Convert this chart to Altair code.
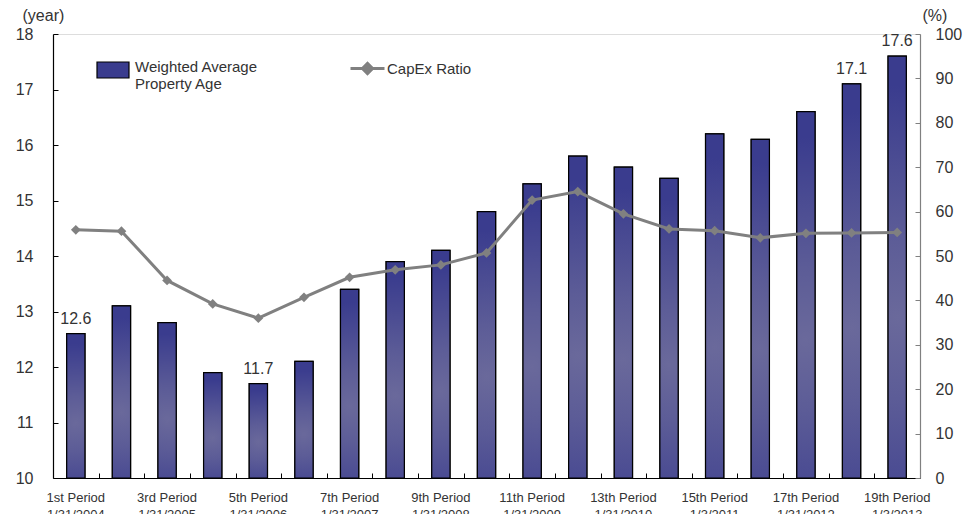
import altair as alt
import pandas as pd

# ---- data ----
periods = ["1st Period", "2nd Period", "3rd Period", "4th Period", "5th Period",
           "6th Period", "7th Period", "8th Period", "9th Period", "10th Period",
           "11th Period", "12th Period", "13th Period", "14th Period", "15th Period",
           "16th Period", "17th Period", "18th Period", "19th Period"]
property_age = [12.6, 13.1, 12.8, 11.9, 11.7, 12.1, 13.4, 13.9, 14.1, 14.8,
                15.3, 15.8, 15.6, 15.4, 16.2, 16.1, 16.6, 17.1, 17.6]
capex_ratio = [55.9, 55.6, 44.5, 39.2, 36.0, 40.7, 45.2, 46.9, 48.0, 50.7,
               62.6, 64.5, 59.5, 56.1, 55.7, 54.1, 55.1, 55.2, 55.3]
labeled_periods = ["1st Period", "3rd Period", "5th Period", "7th Period", "9th Period",
                   "11th Period", "13th Period", "15th Period", "17th Period", "19th Period"]
labeled_dates = ["1/31/2004", "1/31/2005", "1/31/2006", "1/31/2007", "1/31/2008",
                 "1/31/2009", "1/31/2010", "1/3/2011", "1/31/2012", "1/3/2013"]
annotated_periods = ["1st Period", "5th Period", "18th Period", "19th Period"]
age_axis_min = 10
bar_series = "Weighted Average|Property Age"
line_series = "CapEx Ratio"

df = pd.DataFrame({
    "period": periods,
    "age": property_age,
    "capex": capex_ratio,
    "bar_series": [bar_series] * len(periods),
    "line_series": [line_series] * len(periods),
    "show": [p in annotated_periods for p in periods],
})

W, H = 867, 444
FONT = "Liberation Sans"
TXT = "#333333"
GRAY = "#808080"
NAVY = "#3a3c8e"

step = W / len(periods)
x_scale = alt.Scale(domain=periods, paddingInner=0.6, paddingOuter=0.3)
age_scale = alt.Scale(domain=[10, 18], nice=False, zero=False)
pct_scale = alt.Scale(domain=[0, 100], nice=False)

lp = "[" + ",".join("'%s'" % p for p in labeled_periods) + "]"
ld = "[" + ",".join("'%s'" % d for d in labeled_dates) + "]"
x_label_expr = (f"indexof({lp}, datum.value) >= 0 ? "
                f"[datum.value, {ld}[indexof({lp}, datum.value)]] : ''")

base = alt.Chart(df)

# solid bars (drive the legend and host the labelled x / left y axes)
bars_solid = base.mark_bar(stroke="black", strokeWidth=1.2).encode(
    x=alt.X("period:N", scale=x_scale, sort=periods, title=None,
            axis=alt.Axis(orient="bottom", labelExpr=x_label_expr, labelAngle=0,
                          labelOverlap=False, labelFontSize=13, labelColor=TXT,
                          labelFont=FONT, labelPadding=13, labelLineHeight=17,
                          labelBaseline="top",
                          ticks=False, tickSize=0, domainColor="black",
                          domainWidth=1.2)),
    y=alt.Y("age:Q", scale=age_scale,
            axis=alt.Axis(orient="left", values=list(range(10, 19)), format="d",
                          grid=False, ticks=False, tickSize=0, labelPadding=20,
                          labelFontSize=16, labelColor=TXT, labelFont=FONT,
                          domainColor="black", domainWidth=1.2,
                          title="(year)", titleAngle=0, titleAlign="left",
                          titleBaseline="middle", titleX=-31, titleY=-19,
                          titleFontSize=16, titleFontWeight="normal",
                          titleColor=TXT, titleFont=FONT)),
    y2=alt.datum(age_axis_min),
    fill=alt.Fill("bar_series:N", scale=alt.Scale(range=[NAVY]),
                  legend=alt.Legend(title=None, orient="none", legendX=43, legendY=16,
                                    symbolType="M-1,-0.3125H1V0.6875H-1Z",
                                    symbolSize=1024, symbolStrokeColor="black",
                                    symbolStrokeWidth=1.2, labelFontSize=15,
                                    labelColor=TXT, labelFont=FONT,
                                    labelExpr="split(datum.value, '|')",
                                    labelOffset=5, padding=0, labelBaseline="middle")),
)

# gradient bars drawn on top (hosts inward ticks of the left axis)
bars_grad = base.mark_bar(
    stroke="black", strokeWidth=1.2,
    fill=alt.RadialGradient(
        gradient="radial", x1=0.5, y1=0.62, r1=0, x2=0.5, y2=0.62, r2=0.55,
        stops=[alt.GradientStop(offset=0, color="#6a699b"),
               alt.GradientStop(offset=0.35, color="#5c5c97"),
               alt.GradientStop(offset=1, color=NAVY)]),
).encode(
    x=alt.X("period:N", scale=x_scale, sort=periods, axis=None),
    y=alt.Y("age:Q", scale=age_scale,
            axis=alt.Axis(orient="right", offset=-W, values=list(range(10, 19)),
                          labels=False, domain=False, grid=False, ticks=True,
                          tickSize=5, tickColor="black", title=None)),
    y2=alt.datum(age_axis_min),
)

line = base.mark_line(strokeWidth=3).encode(
    x=alt.X("period:N", scale=x_scale, sort=periods, axis=None),
    y=alt.Y("capex:Q", scale=pct_scale,
            axis=alt.Axis(orient="right", values=list(range(0, 101, 10)), format="d",
                          grid=False, ticks=False, tickSize=0, labelPadding=15,
                          labelFontSize=16, labelColor=TXT, labelFont=FONT,
                          domainColor=GRAY, domainWidth=1.2,
                          title="(%)", titleAngle=0, titleAlign="left",
                          titleBaseline="middle", titleX=2, titleY=-19,
                          titleFontSize=16, titleFontWeight="normal",
                          titleColor=TXT, titleFont=FONT)),
    stroke=alt.Stroke("line_series:N", scale=alt.Scale(range=[GRAY]),
                      legend=alt.Legend(title=None, orient="none", legendX=296, legendY=16,
                                        symbolType="M-1,0H1M-0.3,0L0,-0.3L0.3,0L0,0.3Z",
                                        symbolSize=1156, symbolStrokeWidth=3,
                                        symbolFillColor=GRAY, labelFontSize=15,
                                        labelColor=TXT, labelFont=FONT,
                                        labelOffset=1, padding=0)),
)

points = base.mark_point(shape="diamond", filled=True, size=95, color=GRAY,
                         opacity=1).encode(
    x=alt.X("period:N", scale=x_scale, sort=periods,
            axis=alt.Axis(orient="top", offset=-H, labels=False, domain=False,
                          ticks=True, tickSize=5, tickColor="black",
                          tickOffset=step / 2, title=None)),
    y=alt.Y("capex:Q", scale=pct_scale,
            axis=alt.Axis(orient="left", offset=-W, values=list(range(0, 101, 10)),
                          labels=False, domain=False, grid=False, ticks=True,
                          tickSize=5, tickColor=GRAY, title=None)),
)

labels = base.transform_filter("datum.show").mark_text(
    dy=-10, baseline="alphabetic", fontSize=16, font=FONT, color=TXT
).encode(
    x=alt.X("period:N", scale=x_scale, sort=periods, axis=None),
    y=alt.Y("age:Q", scale=age_scale, axis=None),
    text=alt.Text("age:Q", format=".1f"),
)

chart = alt.layer(bars_solid, bars_grad, line, points, labels).resolve_scale(
    y="independent", fill="independent", stroke="independent"
).resolve_axis(
    x="independent", y="independent"
).resolve_legend(
    fill="independent", stroke="independent"
).properties(
    width=W, height=H,
    autosize=alt.AutoSizeParams(type="none"),
    padding={"left": 45, "top": 26, "right": 50, "bottom": 40},
).configure_view(stroke=None).configure(font=FONT)

chart.save("out.html", embed_options={"renderer": "svg", "actions": False})
